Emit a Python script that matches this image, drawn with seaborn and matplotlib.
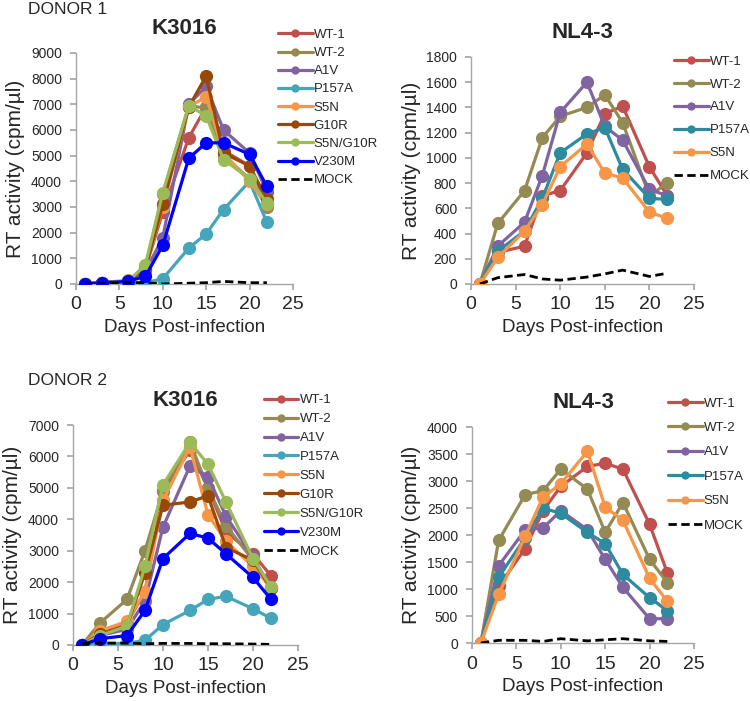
import numpy as np
import pandas as pd
import matplotlib
matplotlib.use("Agg")
import matplotlib.pyplot as plt
import seaborn as sns
from matplotlib.lines import Line2D

sns.set_theme(style="white")
plt.rcParams['font.family'] = ['Liberation Sans', 'DejaVu Sans']

days = [1, 3, 6, 8, 10, 13, 15, 17, 20, 22]

# Donor 1, K3016
d1_k_wt1 = [0, 50, 100, 600, 2800, 5700, 6900, 5200, 4600, 3100]
d1_k_wt2 = [0, 50, 100, 650, 3500, 6950, 6850, 5000, 4100, 3000]
d1_k_a1v = [0, 50, 100, 500, 1800, 7000, 7700, 6000, 5100, 3600]
d1_k_p157a = [0, 50, 50, 50, 200, 1400, 1950, 2900, 4000, 2400]
d1_k_s5n = [0, 50, 150, 600, 3000, 6900, 7300, 5100, 4000, 3100]
d1_k_g10r = [0, 50, 100, 600, 3100, 6900, 8100, 5100, 4600, 3300]
d1_k_s5ng10r = [0, 50, 100, 750, 3550, 6950, 6550, 4850, 4100, 3150]
d1_k_v230m = [0, 50, 100, 300, 1500, 4900, 5500, 5500, 5050, 3800]
d1_k_mock = [0, 20, 50, 50, 0, 30, 50, 100, 50, 50]

# Donor 1, NL4-3
d1_n_wt1 = [0, 250, 300, 700, 740, 1040, 1350, 1410, 930, 700]
d1_n_wt2 = [0, 480, 740, 1160, 1330, 1400, 1500, 1280, 700, 800]
d1_n_a1v = [0, 300, 490, 860, 1360, 1600, 1250, 1140, 750, 700]
d1_n_p157a = [0, 260, 420, 680, 1040, 1190, 1240, 910, 680, 670]
d1_n_s5n = [0, 210, 420, 630, 930, 1110, 880, 840, 570, 520]
d1_n_mock = [0, 50, 75, 40, 30, 55, 80, 110, 60, 85]

# Donor 2, K3016
d2_k_wt1 = [0, 400, 700, 1700, 4900, 6200, 5000, 3600, 2900, 2200]
d2_k_wt2 = [0, 700, 1450, 3000, 4900, 6450, 5000, 3800, 2700, 1800]
d2_k_a1v = [0, 300, 500, 1400, 3750, 5700, 5350, 4100, 2800, 1800]
d2_k_p157a = [0, 50, 50, 150, 650, 1100, 1450, 1550, 1150, 850]
d2_k_s5n = [0, 450, 750, 1700, 4600, 6300, 4150, 3300, 2500, 1800]
d2_k_g10r = [0, 350, 600, 2300, 4450, 4550, 4750, 3100, 2700, 1800]
d2_k_s5ng10r = [0, 300, 600, 2500, 5100, 6450, 5750, 4550, 2750, 1850]
d2_k_v230m = [0, 200, 300, 1100, 2750, 3550, 3400, 2900, 2150, 1450]
d2_k_mock = [50, 60, 60, 40, 50, 50, 40, 40, 30, 20]

# Donor 2, NL4-3
d2_n_wt1 = [0, 1050, 1750, 2450, 2900, 3270, 3330, 3220, 2200, 1300]
d2_n_wt2 = [0, 1900, 2750, 2820, 3220, 2850, 2050, 2600, 1550, 1120]
d2_n_a1v = [0, 1430, 2100, 2130, 2450, 2100, 1550, 1030, 450, 450]
d2_n_p157a = [0, 1220, 1950, 2500, 2400, 2050, 1840, 1270, 840, 600]
d2_n_s5n = [0, 900, 1980, 2700, 2950, 3550, 2520, 2270, 1200, 770]
d2_n_mock = [0, 50, 50, 30, 80, 40, 60, 80, 40, 30]

labels_k = ["WT-1", "WT-2", "A1V", "P157A", "S5N", "G10R", "S5N/G10R", "V230M", "MOCK"]
labels_n = ["WT-1", "WT-2", "A1V", "P157A", "S5N", "MOCK"]

colors_k = {"WT-1": "#C0504D", "WT-2": "#948A54", "A1V": "#8064A2", "P157A": "#45A5BA",
            "S5N": "#F79646", "G10R": "#984807", "S5N/G10R": "#9BBB59", "V230M": "#0000FF",
            "MOCK": "#000000"}
colors_n = {"WT-1": "#C0504D", "WT-2": "#948A54", "A1V": "#8064A2", "P157A": "#2E8A9E",
            "S5N": "#F79646", "MOCK": "#000000"}

panels = [
    dict(pos=[0.1013, 0.5949, 0.2893, 0.3295], title="K3016", ymax=9000, ystep=1000,
         series=[d1_k_wt1, d1_k_wt2, d1_k_a1v, d1_k_p157a, d1_k_s5n, d1_k_g10r, d1_k_s5ng10r, d1_k_v230m, d1_k_mock],
         labels=labels_k, colors=colors_k, leg=(0.371, 0.959), spacing=0.45),
    dict(pos=[0.628, 0.5949, 0.2973, 0.3238], title="NL4-3", ymax=1800, ystep=200,
         series=[d1_n_wt1, d1_n_wt2, d1_n_a1v, d1_n_p157a, d1_n_s5n, d1_n_mock],
         labels=labels_n, colors=colors_n, leg=(0.899, 0.921), spacing=0.81),
    dict(pos=[0.0973, 0.0799, 0.30, 0.3138], title="K3016", ymax=7000, ystep=1000,
         series=[d2_k_wt1, d2_k_wt2, d2_k_a1v, d2_k_p157a, d2_k_s5n, d2_k_g10r, d2_k_s5ng10r, d2_k_v230m, d2_k_mock],
         labels=labels_k, colors=colors_k, leg=(0.352, 0.438), spacing=0.51),
    dict(pos=[0.6293, 0.0827, 0.296, 0.3081], title="NL4-3", ymax=4000, ystep=500,
         series=[d2_n_wt1, d2_n_wt2, d2_n_a1v, d2_n_p157a, d2_n_s5n, d2_n_mock],
         labels=labels_n, colors=colors_n, leg=(0.891, 0.433), spacing=0.92),
]

fig = plt.figure(figsize=(7.5, 7.01), dpi=100)
spine_col = "#A6A6A6"

for p in panels:
    ax = fig.add_axes(p["pos"])
    handles = []
    for lab, vals in zip(p["labels"], p["series"]):
        col = p["colors"][lab]
        if lab == "MOCK":
            sns.lineplot(x=days, y=vals, ax=ax, color=col, lw=2.0, linestyle=(0, (3, 1.6)),
                         marker=None, zorder=5)
            handles.append(Line2D([], [], color=col, lw=2.0, linestyle=(0, (3, 1.6))))
        else:
            sns.lineplot(x=days, y=vals, ax=ax, color=col, lw=2.3, marker="o", markersize=9.5,
                         markeredgewidth=0, zorder=3)
            handles.append(Line2D([], [], color=col, lw=2.3, marker="o", markersize=6,
                                  markeredgewidth=0))
    ax.set_xlim(0, 25)
    ax.set_ylim(0, p["ymax"])
    ax.set_xticks([0, 5, 10, 15, 20, 25])
    ax.set_yticks(np.arange(0, p["ymax"] + 1, p["ystep"]))
    for s in ["top", "right"]:
        ax.spines[s].set_visible(False)
    for s in ["left", "bottom"]:
        ax.spines[s].set_color(spine_col)
        ax.spines[s].set_linewidth(1.0)
    ax.tick_params(axis="x", which="both", direction="out", length=4, color=spine_col,
                   labelsize=14, pad=5, bottom=True)
    ax.tick_params(axis="y", which="both", direction="out", length=4, color=spine_col,
                   labelsize=10, pad=6, left=True)
    ax.set_xlabel("Days Post-infection", fontsize=13.5, labelpad=4)
    ax.set_ylabel("RT activity (cpm/µl)", fontsize=15, labelpad=4)
    ax.set_title(p["title"], fontsize=16, fontweight="bold", pad=14)
    ax.grid(False)
    fig.legend(handles, p["labels"], loc="upper left", bbox_to_anchor=p["leg"],
               frameon=False, fontsize=9.5, handlelength=2.6, handletextpad=0.1,
               labelspacing=p["spacing"], borderpad=0, borderaxespad=0)

fig.text(0.037, 0.997, "DONOR 1", fontsize=12.5, ha="left", va="top")
fig.text(0.037, 0.468, "DONOR 2", fontsize=12.5, ha="left", va="top")

fig.savefig("out.png", dpi=100)
